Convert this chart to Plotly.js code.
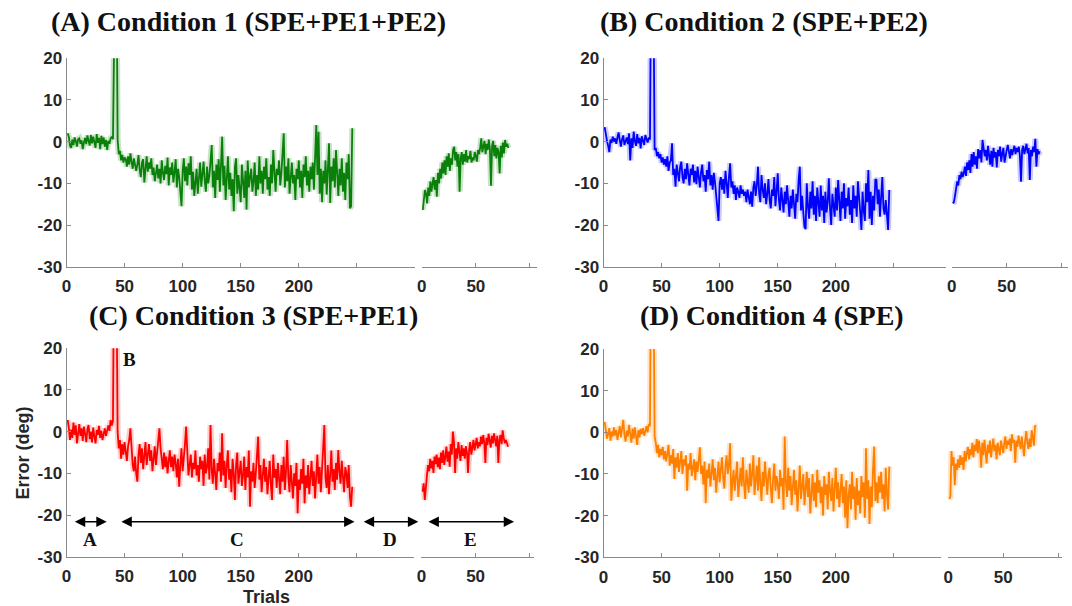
<!DOCTYPE html>
<html><head><meta charset="utf-8">
<script src="https://cdn.plot.ly/plotly-3.0.1.min.js"></script>
<style>html,body{margin:0;padding:0;background:#fff}#chart{width:1072px;height:606px}</style>
</head><body><div id="chart"></div>
<script>
// ---------------- DATA (error in deg per trial) ----------------
const titles = ['(A) Condition 1 (SPE+PE1+PE2)', '(B) Condition 2 (SPE+PE2)', '(C) Condition 3 (SPE+PE1)', '(D) Condition 4 (SPE)'];
const mainTicks = [0, 50, 100, 150, 200, 250];
const mainTickText = ['0', '50', '100', '150', '200', ''];
const postTicks = [0, 50, 100];
const postTickText = ['0', '50', ''];
const yTicks = [-30, -20, -10, 0, 10, 20];
const yTickText = ['-30', '-20', '-10', '0', '10', '20'];

const mainA = [
 2.0,1.2,-1.0,-1.5,0.5,-0.8,1.0,0.2,-1.2,0.6,
 0.8,-0.5,0.3,-1.8,-0.2,0.9,-0.6,1.5,0.2,-0.9,
 1.6,-0.4,1.2,0.1,-1.5,1.8,-0.3,0.9,-1.8,1.4,
 -0.6,1.0,-1.2,0.4,-2.0,0.2,-0.5,0.8,1.2,0.6,
 45,48,46,
 0.5,-3.0,-2.2,-4.5,-3.2,-5.0,-3.8,
 -4.2,-6.0,-3.5,-5.5,-2.8,-4.8,-6.5,-4.0,-5.2,-7.0,
 -5.5,-3.2,-6.8,-8.5,-5.0,-4.2,-9.8,-6.0,-3.5,-7.2,
 -5.0,-6.5,-4.0,-8.0,-6.2,-9.5,-7.0,-5.5,-8.8,-6.5,
 -10.0,-4.5,-7.5,-9.2,-5.8,-7.8,-3.8,-10.5,-6.2,-8.0,
 -5.0,-9.8,-7.2,-4.2,-11.0,-6.5,-8.5,-12.0,-15.5,-7.0,
 -4.0,-9.5,-6.0,-10.5,-5.2,-8.0,-3.5,-11.5,-7.2,-13.0,
 -9.0,-6.5,-12.5,-8.0,-5.0,-10.8,-7.5,-4.8,-9.5,-12.0,
 -6.0,-10.0,-8.2,-3.0,-0.8,-11.0,-7.0,-13.5,-5.5,-9.2,
 -4.2,-12.0,-7.0,1.2,-10.5,-5.8,-14.0,-8.5,-3.5,-11.5,
 -7.5,-13.0,-9.0,-16.7,-6.0,-4.0,-12.5,-8.0,-10.5,-14.5,
 -5.5,-9.0,-13.5,-7.0,-16.3,-4.5,-11.0,-8.5,-6.5,-12.0,
 -9.5,-5.0,-13.0,-8.0,-11.5,-3.5,-10.0,-7.0,-12.5,-6.0,
 -9.0,-4.0,-11.5,-8.5,-13.0,-5.5,-10.0,-2.0,-9.0,-12.0,
 -6.5,-8.0,-4.5,-10.5,-7.5,-3.0,2.0,-11.0,-6.0,-9.5,
 -4.0,-12.5,-7.5,-5.0,-10.0,-8.0,-14.0,-6.5,-9.0,-4.5,
 -11.0,-7.0,-13.5,-5.5,-8.5,-3.5,-10.5,-7.0,-12.0,-6.0,
 -9.0,-5.0,-11.5,-1.0,4.0,-8.0,2.4,-12.5,-6.5,-14.5,
 -7.0,-10.0,-4.5,-12.7,-8.0,-0.4,-14.7,-6.0,-9.5,-4.0,
 -11.0,-2.0,-7.5,-13.0,-6.5,-10.5,-4.0,-12.0,-7.5,-14.0,
 -5.0,-9.0,-3.0,-16.0,-15.5,3.2
];
const postA = [
 -16.4,-14.5,-11.6,-12.5,-14.8,-11.0,-13.0,-9.5,-12.0,-10.0,
 -8.5,-11.5,-9.2,-13.2,-7.5,-10.0,-6.5,-8.8,-5.0,-7.6,
 -4.5,-8.0,-3.5,-6.0,-2.8,-7.0,-4.0,-5.5,-2.0,-1.2,
 -4.5,-2.5,-6.0,-3.0,-12.0,-4.0,-2.5,-5.5,-3.0,-4.8,
 -2.0,-5.0,-3.5,-4.2,-2.2,-5.0,-3.8,-4.5,-2.5,-3.5,
 -4.8,-2.0,-3.0,-1.5,0.8,-2.5,-1.0,0.2,-3.0,-0.5,
 -2.0,0.5,-1.8,-10.6,-1.0,0.2,-3.5,-0.8,-4.0,-1.5,
 -2.5,-7.6,-1.0,-3.8,-0.2,-2.8,0.4,-1.2,-0.5,-1.5
];
const mainB = [
 3.5,1.5,0.2,-1.0,-2.5,0.5,-0.3,1.2,0.0,0.8,
 -0.5,1.0,2.2,0.4,-1.2,0.6,1.5,-0.8,0.2,1.0,
 -0.6,2.0,-4.5,0.8,-1.5,2.4,0.1,-1.0,1.8,-0.4,
 0.9,-1.6,1.3,0.2,-0.8,1.6,0.4,-0.2,1.0,0.5,
 42,40,36,
 -2.0,-1.5,-3.5,-2.5,-4.0,-3.0,-5.0,
 -3.8,-5.5,-4.2,-6.0,-3.5,-7.0,-5.0,-4.5,-0.4,-8.0,
 -6.5,-10.8,-5.5,-7.5,-9.5,-6.0,-4.8,-8.5,-10.0,-6.5,
 -9.0,-5.2,-7.8,-10.5,-6.5,-8.0,-5.5,-9.8,-7.0,-10.2,
 -6.0,-8.5,-11.0,-7.2,-5.5,-9.5,-8.0,-12.0,-6.8,-9.0,
 -4.8,-10.5,-8.0,-11.5,-7.5,-9.8,-13.0,-17.2,-19.0,-10.0,
 -8.5,-11.5,-9.0,-12.5,-7.0,-10.0,-13.5,-8.5,-5.2,-11.0,
 -9.5,-12.5,-10.5,-14.0,-11.0,-12.0,-13.5,-10.5,-12.5,-11.5,
 -13.0,-12.0,-14.5,-11.5,-13.0,-15.0,-12.0,-15.6,-11.0,-9.5,
 -13.0,-10.5,-6.0,-12.5,-14.5,-8.0,-11.5,-13.5,-10.0,-15.0,
 -12.5,-9.0,-14.0,-16.0,-11.5,-13.0,-8.5,-15.5,-12.0,-7.6,
 -14.0,-16.5,-11.0,-13.5,-17.0,-12.0,-15.0,-10.5,-14.0,-18.0,
 -13.0,-16.0,-11.5,-15.5,-18.5,-12.5,-14.5,-9.0,-6.0,-16.5,
 -13.0,-17.0,-20.4,-21.0,-10.0,-15.5,-18.5,-12.0,-16.0,-9.5,
 -17.5,-13.0,-19.0,-11.0,-15.0,-18.0,-10.5,-16.5,-13.0,-19.5,
 -12.0,-17.0,-14.5,-8.8,-16.0,-20.0,-12.5,-15.0,-18.0,-11.0,
 -16.5,-9.2,-14.0,-19.0,-12.0,-16.0,-10.0,-18.5,-13.5,-15.5,
 -11.0,-17.5,-14.0,-19.5,-10.5,-16.0,-13.0,-18.0,-9.5,-15.0,
 -17.0,-21.2,-12.0,-16.5,-19.0,-10.0,-14.5,-6.8,-18.5,-12.0,
 -20.0,-13.0,-16.5,-9.0,-9.2,-15.0,-11.5,-18.0,-13.5,-8.5,
 -16.0,-17.5,-14.0,-19.0,-21.2,-11.6
];
const postB = [
 -14.8,-14.5,-13.0,-11.0,-9.5,-10.5,-8.0,-9.0,-7.2,-8.5,
 -7.6,-6.0,-8.2,-5.0,-6.8,-4.5,-7.5,-3.0,-6.0,-2.5,
 -5.5,-3.5,-6.5,-1.8,-4.0,-2.0,-5.0,0.4,-1.5,-3.5,
 -2.0,-4.5,-1.0,-3.0,-5.5,-2.2,-6.0,-1.5,-3.8,-2.5,
 -6.2,-2.0,-3.5,-1.2,-4.8,-2.8,-1.5,-5.0,-3.0,-2.0,
 -0.8,-2.5,-4.0,-1.8,-3.2,-2.0,-1.0,-3.0,-1.5,-2.5,
 -1.2,-3.5,-9.6,-2.0,-1.0,-3.0,-1.8,-0.5,-2.8,-1.5,
 -9.2,-2.0,-3.5,-1.2,-2.5,0.7,-6.0,-1.8,-3.0,-2.3
];
const mainC = [
 2.8,1.0,-2.0,0.5,-1.5,2.2,-0.8,1.5,-2.8,0.2,
 1.8,-1.0,0.8,-2.2,1.2,-0.5,-2.5,0.6,1.6,-1.8,
 0.0,-2.6,1.0,-1.2,-2.8,0.4,-0.8,1.4,-1.5,0.2,
 -2.0,-0.6,0.8,-1.0,0.5,1.5,0.2,2.8,1.5,2.5,
 44,42,38,
 0.0,-4.0,-2.0,-6.5,-3.0,-5.5,-2.5,
 -4.5,-7.0,-3.5,-2.0,0.8,-5.0,-8.0,-9.5,-6.0,-10.0,
 -12.0,-5.5,-3.0,-7.5,-4.0,-9.0,-6.0,-2.5,-8.0,-5.0,
 -3.0,-7.0,-4.5,-9.5,-6.5,-3.5,-8.0,-5.5,-2.0,0.8,
 -4.0,-7.5,-9.0,-5.0,-8.5,-6.0,-10.0,-7.0,-4.5,-8.5,
 -6.0,-9.5,-5.5,-7.5,-11.0,-6.5,-13.2,-8.0,-4.0,-9.5,
 -7.0,-3.0,1.2,-6.5,-10.5,-8.0,-5.5,-11.0,-7.5,-9.0,
 -4.5,-10.5,-8.0,-12.0,-6.0,-9.0,-7.0,-13.0,-5.5,-10.0,
 -8.5,-4.0,-11.5,1.6,-9.0,-12.5,-6.5,-10.0,-14.0,-7.5,
 -9.5,-5.0,-12.0,-0.4,-10.5,-7.0,-13.5,-8.0,-4.5,-11.5,
 -9.0,-14.5,-6.5,-10.0,-16.4,-8.0,-5.0,-12.5,-9.5,-7.0,
 -13.0,-10.5,-6.0,-14.0,-8.5,-11.0,-4.5,-18.0,-9.5,-12.0,
 -7.5,-13.5,-10.0,-5.5,-1.2,-11.5,-8.0,-14.5,-9.0,-6.5,
 -12.0,-8.5,-15.0,-10.0,-7.0,-13.0,-16.4,-5.5,-11.0,-9.0,
 -13.5,-7.5,-10.5,-15.0,-8.0,-12.0,-6.0,-14.0,-9.5,-2.0,
 -11.0,-14.5,-8.0,-12.5,-16.0,-10.0,-13.0,-7.5,-19.6,-11.5,
 -14.0,-9.0,-12.5,-6.5,-17.2,-10.5,-13.5,-8.0,-15.0,-11.0,
 -7.0,-13.0,-9.5,-16.0,-10.0,-5.5,-12.5,-8.5,-14.5,-9.0,
 -6.0,1.6,-11.0,-13.5,-8.0,-15.0,-10.5,-4.5,-12.0,-9.0,
 -14.0,-7.5,-11.5,-4.4,-9.5,-12.5,-7.0,-11.0,-14.5,-8.5,
 -10.0,-13.5,-8.0,-15.5,-18.0,-13.2
];
const postC = [
 -14.4,-12.4,-16.4,-12.0,-10.5,-8.0,-9.5,-6.5,-8.8,-7.0,
 -9.9,-6.0,-7.8,-5.5,-8.5,-6.2,-9.0,-5.0,-7.5,-4.5,
 -8.0,-6.0,-3.6,-7.2,-4.8,-8.4,-3.0,-5.5,0.0,-2.5,
 -9.9,-4.0,-6.5,-2.5,-5.0,-7.0,-3.2,-5.8,-4.0,-6.5,
 -3.5,-5.0,-9.9,-4.2,-2.5,-5.5,-3.8,-2.0,-4.5,-3.0,
 -1.5,-4.0,-2.5,-3.5,-1.2,-3.0,-0.8,-2.5,-7.5,-1.5,
 -3.2,-0.5,-2.0,-3.8,-1.0,-2.8,-0.4,-2.2,-3.5,-1.0,
 -7.5,-2.0,-0.8,-3.0,0.3,-1.5,-2.8,-2.0,-3.2,-3.6
];
const mainD = [
 2.5,0.5,-1.5,-0.5,1.0,-2.0,0.2,-1.0,1.2,-0.8,
 0.6,-1.8,0.0,1.5,-1.2,0.8,3.0,-0.5,-2.2,0.4,
 -1.0,1.8,-0.3,-2.5,0.9,-1.5,1.2,-0.8,-3.0,0.5,
 -1.2,0.8,-0.4,1.0,-0.8,0.2,1.5,0.0,2.0,1.5,
 45,42,38,
 -1.0,-2.5,-5.0,-3.0,-6.0,-4.0,-5.5,
 -3.5,-6.5,-4.5,-7.0,-5.0,-3.0,-8.0,-5.5,-7.5,-4.0,
 -11.2,-6.0,-8.5,-5.0,-9.5,-7.0,-4.5,-10.0,-6.5,-8.0,
 -5.5,-14.0,-7.5,-9.0,-5.0,-10.5,-8.0,-6.5,-11.5,-7.0,
 -9.5,-6.0,-3.6,-10.0,-8.0,-12.5,-7.0,-17.0,-9.0,-11.0,
 -7.5,-13.0,-9.0,-6.5,-11.5,-8.5,-14.5,-10.0,-7.0,-12.0,
 -9.0,-6.0,-11.0,-13.5,-8.0,-5.5,-10.0,-7.5,-2.6,-16.4,
 -12.0,-9.0,-14.0,-10.5,-7.0,-15.5,-11.0,-8.5,-13.0,-6.0,
 -12.5,-16.0,-9.0,-11.5,-14.5,-7.5,-13.0,-10.0,-5.5,-15.0,
 -11.0,-8.0,-14.0,-6.0,-12.5,-16.5,-9.5,-13.0,-7.0,-11.5,
 -15.0,-10.0,-8.5,-13.5,-17.0,-11.0,-7.5,-14.0,-10.5,-12.5,
 -16.0,-9.0,-13.0,-11.0,-18.6,-1.0,-12.0,-15.5,-8.5,-14.0,
 -10.5,-17.5,-12.0,-9.0,-15.0,-11.5,-19.0,-13.0,-8.0,-16.0,
 -12.5,-10.0,-17.5,-13.5,-9.5,-15.5,-11.0,-19.5,-14.0,-10.0,
 -16.5,-12.0,-18.0,-9.0,-14.5,-11.5,-17.0,-13.0,-20.0,-10.5,
 -15.0,-12.5,-18.5,-9.5,-14.0,-16.5,-11.0,-19.0,-13.5,-8.5,
 -16.0,-12.0,-18.0,-14.0,-10.0,-17.0,-13.0,-20.5,-11.5,-23.0,
 -15.0,-12.5,-18.5,-9.5,-16.0,-13.0,-21.0,-11.0,-17.5,-14.0,
 -19.5,-10.5,-15.5,-12.0,-20.5,-3.8,-16.0,-11.5,-22.0,-13.0,
 -18.0,-9.0,-3.4,-16.5,-12.0,-17.0,-10.5,-14.5,-9.5,-16.0,
 -12.5,-19.0,-8.5,-15.0,-18.5,-8.2
];
const postD = [
 -16.0,-15.5,-4.5,-8.0,-6.0,-12.7,-7.5,-9.0,-6.5,-8.5,
 -5.5,-7.8,-6.0,-9.0,-4.5,-7.0,-5.0,-3.5,-6.5,-4.0,
 -5.5,-2.5,-6.0,-3.0,-4.5,-1.6,-5.0,-2.0,-4.0,-8.5,
 -2.5,-5.5,-1.8,-4.5,-7.5,-3.0,-5.0,-2.0,-6.0,-3.5,
 -1.5,-4.5,-3.0,-6.5,-2.5,-4.0,-5.5,-2.0,-3.5,-5.0,
 -2.5,-1.0,-4.0,-2.0,-3.0,-1.5,-4.5,-0.5,-2.5,-1.8,
 -7.3,-2.0,-3.5,-0.8,-2.5,-4.0,-1.0,-3.0,-5.7,-2.0,
 0.3,-2.5,-4.0,-1.5,-3.5,0.5,-2.0,-3.2,1.6,1.4
];
const phaseLabels = ['A', 'C', 'D', 'E'];
const phaseSpans = [[5.9, 34.6], [46, 248], [254.6, 302.9]]; // main-axis trials
const phaseSpanE = [5, 85.6];                                  // post-axis trials

// ---------------- LAYOUT GEOMETRY (pixels) ----------------
const W = 1072, H = 606;
const geo = [
  {color:'#0a800a', band:'rgba(10,128,10,0.22)', main:mainA, post:postA, mx:[66.5,415], mr:[0,300], px:[421.7,536.7], pr:[0,106.2], y:[58.3,266.7], tx:248, ty:22},
  {color:'#0000ff', band:'rgba(0,0,255,0.20)',  main:mainB, post:postB, mx:[603.5,945.5], mr:[0,294.4], px:[951.7,1068], pr:[0,105.7], y:[58.3,266.7], tx:764, ty:22},
  {color:'#ff0000', band:'rgba(255,0,0,0.20)',  main:mainC, post:postC, mx:[66.5,414], mr:[0,299.2], px:[421,533.7], pr:[-0.5,103.7], y:[348.3,556.7], tx:253, ty:315},
  {color:'#ff8000', band:'rgba(255,128,0,0.22)',main:mainD, post:postD, mx:[603.5,941.3], mr:[0,290.8], px:[947.5,1062], pr:[-0.6,103.5], y:[349,557.3], tx:772, ty:315}
];

const tickFont = {family:'Liberation Sans, Arial, sans-serif', size:17, color:'#262626', weight:700};
const axisGray = '#8a8a8a';
const traces = [];
const layout = {
  width:W, height:H, margin:{l:0,r:0,t:0,b:0}, paper_bgcolor:'#fff', plot_bgcolor:'rgba(0,0,0,0)',
  showlegend:false, annotations:[]
};
const id = n => n === 1 ? '' : String(n);

geo.forEach((g, i) => {
  const xm = 2*i+1, xp = 2*i+2, yn = i+1;
  const xmId = 'x'+id(xm), xpId = 'x'+id(xp), yId = 'y'+id(yn);
  const yd = [1 - g.y[1]/H, 1 - g.y[0]/H];
  const common = {showgrid:false, zeroline:false, showline:true, linecolor:axisGray, linewidth:1,
    ticks:'inside', ticklen:4, tickwidth:1, tickcolor:axisGray, tickfont:tickFont, fixedrange:true};
  layout['xaxis'+id(xm)] = Object.assign({}, common, {domain:[g.mx[0]/W, g.mx[1]/W], range:g.mr, anchor:yId,
    tickmode:'array', tickvals:mainTicks, ticktext:mainTickText, ticklabelstandoff:4});
  layout['xaxis'+id(xp)] = Object.assign({}, common, {domain:[g.px[0]/W, g.px[1]/W], range:g.pr, anchor:yId,
    tickmode:'array', tickvals:postTicks, ticktext:postTickText, ticklabelstandoff:4});
  layout['yaxis'+id(yn)] = Object.assign({}, common, {domain:yd, range:[-30,20], anchor:xmId,
    tickmode:'array', tickvals:yTicks, ticktext:yTickText});

  const xsMain = g.main.map((v, k) => k + 1);
  const xsPost = g.post.map((v, k) => k + 1);
  [[xsMain, g.main, xmId], [xsPost, g.post, xpId]].forEach(([xs, ys, xa]) => {
    traces.push({type:'scatter', mode:'lines', x:xs, y:ys, xaxis:xa, yaxis:yId,
      line:{color:g.band, width:6}, hoverinfo:'skip'});
    traces.push({type:'scatter', mode:'lines', x:xs, y:ys, xaxis:xa, yaxis:yId,
      line:{color:g.color, width:1.8}, hoverinfo:'skip'});
  });

  layout.annotations.push({xref:'paper', yref:'paper', x:g.tx/W, y:1 - g.ty/H, text:'<b>'+titles[i]+'</b>',
    showarrow:false, xanchor:'center', yanchor:'middle',
    font:{family:'Liberation Serif, Times New Roman, serif', size:28, color:'#111'}});
});

// ---------- Panel C phase annotations ----------
const gC = geo[2];
const mainPx = t => gC.mx[0] + (t - gC.mr[0]) / (gC.mr[1] - gC.mr[0]) * (gC.mx[1] - gC.mx[0]);
const postPx = t => gC.px[0] + (t - gC.pr[0]) / (gC.pr[1] - gC.pr[0]) * (gC.px[1] - gC.px[0]);
const arrowY = 521.7, letterY = 539.3;
const spansPx = phaseSpans.map(s => [mainPx(s[0]), mainPx(s[1])]).concat([[postPx(phaseSpanE[0]), postPx(phaseSpanE[1])]]);
spansPx.forEach((s, k) => {
  layout.annotations.push({xref:'paper', yref:'paper', x:s[1]/W, y:1 - arrowY/H, axref:'pixel', ayref:'pixel',
    ax:s[0]-s[1], ay:0, text:'', showarrow:true, arrowhead:2, arrowside:'end+start', arrowsize:1.3,
    arrowwidth:1.6, arrowcolor:'#000', standoff:0, startstandoff:0});
  layout.annotations.push({xref:'paper', yref:'paper', x:(s[0]+s[1])/2/W, y:1 - letterY/H, text:'<b>'+phaseLabels[k]+'</b>',
    showarrow:false, xanchor:'center', yanchor:'middle',
    font:{family:'Liberation Serif, Times New Roman, serif', size:19, color:'#111'}});
});
layout.annotations.push({xref:'paper', yref:'paper', x:129.8/W, y:1 - 359.3/H, text:'<b>B</b>', showarrow:false,
  xanchor:'center', yanchor:'middle', font:{family:'Liberation Serif, Times New Roman, serif', size:19, color:'#111'}});
layout.annotations.push({xref:'paper', yref:'paper', x:23.4/W, y:1 - 453/H, text:'<b>Error (deg)</b>', showarrow:false,
  textangle:-90, xanchor:'center', yanchor:'middle', font:{family:'Liberation Sans, Arial, sans-serif', size:18, color:'#262626'}});
layout.annotations.push({xref:'paper', yref:'paper', x:266/W, y:1 - 596.7/H, text:'<b>Trials</b>', showarrow:false,
  xanchor:'center', yanchor:'middle', font:{family:'Liberation Sans, Arial, sans-serif', size:18, color:'#262626'}});

Plotly.newPlot('chart', traces, layout, {staticPlot:true, displayModeBar:false});
</script>
</body></html>
